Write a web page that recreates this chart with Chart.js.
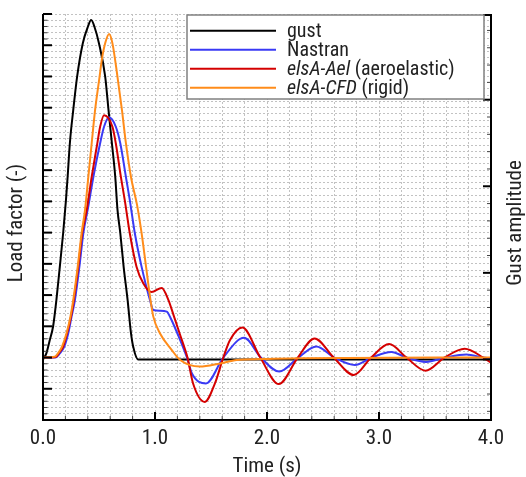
<!DOCTYPE html>
<html>
<head>
<meta charset="utf-8">
<title>Gust response | Load factor</title>
<script src="https://cdn.jsdelivr.net/npm/chart.js@4.4.1/dist/chart.umd.min.js"></script>
<style>
  html, body { margin: 0; padding: 0; background: #ffffff; }
</style>
</head>
<body>
<canvas id="myChart" width="526" height="477"></canvas>
<script>
// values (load factor in arbitrary units, gust on its own axis)
const gustTime = [0, 0.03, 0.06, 0.09, 0.12, 0.15, 0.18, 0.205, 0.22, 0.24, 0.27, 0.305, 0.355, 0.40, 0.43, 0.46, 0.50, 0.555, 0.585, 0.615, 0.645, 0.665, 0.69, 0.72, 0.755, 0.785, 0.805, 0.85, 4.0];
const gustValue = [0, 0.07, 0.22, 0.38, 0.69, 1.07, 1.46, 1.84, 2.11, 2.50, 2.88, 3.27, 3.65, 3.84, 3.92, 3.84, 3.65, 3.27, 2.88, 2.50, 2.11, 1.73, 1.46, 1.07, 0.69, 0.31, 0.15, 0, 0];

const nastranTime = [0, 0.11, 0.15, 0.19, 0.225, 0.255, 0.285, 0.325, 0.36, 0.405, 0.45, 0.51, 0.545, 0.59, 0.65, 0.69, 0.74, 0.775, 0.82, 0.88, 0.955, 0.985, 1.045, 1.105, 1.14, 1.2, 1.285, 1.33, 1.455, 1.61, 1.795, 1.945, 2.11, 2.28, 2.44, 2.6, 2.785, 2.935, 3.11, 3.245, 3.42, 3.59, 3.78, 3.93, 4.0];
const nastranValue = [0, 0, 0.13, 0.35, 0.77, 1.31, 1.84, 2.91, 3.98, 4.85, 5.79, 6.86, 7.39, 7.69, 7.39, 6.86, 5.79, 5.04, 3.98, 2.91, 1.84, 1.52, 1.50, 1.47, 1.26, 0.77, 0, -0.51, -0.83, 0, 0.63, 0, -0.45, 0, 0.35, 0, -0.24, 0, 0.18, 0, -0.14, 0, 0.10, 0, -0.03];

const aelTime = [0, 0.115, 0.145, 0.18, 0.215, 0.25, 0.275, 0.315, 0.35, 0.39, 0.435, 0.485, 0.51, 0.545, 0.62, 0.65, 0.695, 0.73, 0.775, 0.835, 0.895, 0.97, 1.06, 1.12, 1.17, 1.22, 1.27, 1.29, 1.34, 1.445, 1.535, 1.61, 1.67, 1.78, 1.94, 2.105, 2.275, 2.425, 2.595, 2.775, 2.93, 3.09, 3.245, 3.415, 3.585, 3.765, 3.93, 4.0];
const aelValue = [0, 0.02, 0.16, 0.35, 0.78, 1.31, 1.84, 2.91, 3.99, 4.72, 5.79, 6.86, 7.39, 7.76, 7.39, 6.86, 5.79, 5.04, 3.98, 2.91, 2.38, 2.10, 2.23, 1.84, 1.31, 0.77, 0.24, 0, -0.83, -1.42, -0.83, 0, 0.56, 0.96, 0, -0.85, 0, 0.61, 0, -0.56, 0, 0.43, 0, -0.42, 0, 0.28, 0, -0.17];

const cfdTime = [0, 0.105, 0.135, 0.17, 0.21, 0.245, 0.27, 0.31, 0.345, 0.375, 0.405, 0.435, 0.465, 0.505, 0.525, 0.555, 0.59, 0.62, 0.665, 0.705, 0.74, 0.785, 0.84, 0.88, 0.92, 0.96, 0.985, 1.045, 1.15, 1.225, 1.40, 1.58, 1.73, 1.965, 2.3, 4.0];
const cfdValue = [0, 0.03, 0.14, 0.35, 0.78, 1.31, 1.84, 2.91, 3.99, 4.72, 5.79, 6.87, 7.92, 8.99, 9.53, 10.06, 10.36, 10.06, 8.99, 7.92, 6.87, 5.79, 4.88, 3.99, 2.91, 1.84, 1.31, 0.77, 0.24, -0.08, -0.29, -0.19, -0.08, -0.05, -0.02, 0];

const seriesNames = ["gust", "Nastran", "elsA-Ael (aeroelastic)", "elsA-CFD (rigid)"];
const seriesColors = ["#000000", "#3a3af5", "#d40000", "#ff8c1a"];
const axisTitles = ["Load factor (-)", "Gust amplitude"];

const FONT = "'Liberation Sans Narrow', 'Arial Narrow', 'Roboto Condensed', Roboto, sans-serif";
Chart.defaults.font.family = FONT;
Chart.defaults.color = "#222222";

const toPoints = (ts, vs) => ts.map((t, i) => ({ x: t, y: vs[i] }));
const isWhole = (v) => Math.abs(v - Math.round(v)) < 1e-6;

// inward ticks + axis frame (no top border in the original)
const frameTicks = {
  id: "frameTicks",
  afterDatasetsDraw(chart) {
    const { ctx, chartArea: a, scales } = chart;
    const line = (x1, y1, x2, y2, w, c) => {
      ctx.beginPath();
      ctx.lineWidth = w;
      ctx.strokeStyle = c;
      ctx.moveTo(x1, y1);
      ctx.lineTo(x2, y2);
      ctx.stroke();
    };
    ctx.save();
    for (let k = 0; k <= 20; k++) {
      const px = scales.x.getPixelForValue(k * 0.2);
      const major = k % 5 === 0;
      line(px, a.bottom, px, a.bottom - (major ? 8 : 4), major ? 2 : 1, major ? "#000" : "#444");
    }
    for (let k = -10; k <= 55; k++) {
      const py = scales.y.getPixelForValue(k * 0.2);
      const major = k % 5 === 0;
      line(a.left, py, a.left + (major ? 9 : 4.5), py, major ? 2 : 1, major ? "#000" : "#444");
    }
    for (let k = -3; k <= 20; k++) {
      let py = scales.y2.getPixelForValue(k * 0.2);
      if (py < a.top - 2 || py > a.bottom) continue;
      py = Math.max(py, a.top + 1);
      const major = k % 5 === 0;
      line(a.right, py, a.right - (major ? 8 : 4), py, major ? 2 : 1, major ? "#000" : "#444");
    }
    line(a.left, a.top, a.left, a.bottom + 1, 2, "#000");
    line(a.left - 1, a.bottom, a.right + 1, a.bottom, 2, "#000");
    line(a.right, a.top, a.right, a.bottom + 1, 2, "#000");

    // both vertical titles read bottom-to-top
    ctx.fillStyle = "#222222";
    ctx.font = "21px " + FONT;
    ctx.textAlign = "center";
    ctx.textBaseline = "middle";
    const midY = (a.top + a.bottom) / 2 + 6;
    [[a.left - 26, axisTitles[0]], [a.right + 24.5, axisTitles[1]]].forEach(([tx, text]) => {
      ctx.save();
      ctx.translate(tx, midY);
      ctx.rotate(-Math.PI / 2);
      ctx.fillText(text, 0, 0);
      ctx.restore();
    });
    ctx.restore();
  }
};

// legend box with italic code names
const legendBox = {
  id: "legendBox",
  afterDraw(chart) {
    const { ctx, chartArea: a } = chart;
    const left = a.right - 304, top = a.top + 1, w = 297, h = 84;
    ctx.save();
    ctx.fillStyle = "#ffffff";
    ctx.fillRect(left, top, w, h);
    ctx.strokeStyle = "#808080";
    ctx.lineWidth = 1.5;
    ctx.strokeRect(left, top, w, h);
    seriesNames.forEach((name, i) => {
      const yy = top + 15.7 + i * 19;
      ctx.beginPath();
      ctx.strokeStyle = seriesColors[i];
      ctx.lineWidth = 2;
      ctx.moveTo(left + 3, yy);
      ctx.lineTo(left + 89, yy);
      ctx.stroke();
      const m = name.match(/^(elsA-\S+)(.*)$/);
      const italic = m ? m[1] : "";
      const plain = m ? m[2] : name;
      let tx = left + 100;
      ctx.fillStyle = "#222222";
      ctx.textBaseline = "alphabetic";
      if (italic) {
        ctx.font = "italic 20px " + FONT;
        ctx.fillText(italic, tx, yy + 6.7);
        tx += ctx.measureText(italic).width;
      }
      ctx.font = "20px " + FONT;
      ctx.fillText(plain, tx, yy + 6.7);
    });
    ctx.restore();
  }
};

const lineSet = (label, ts, vs, i, axis, order) => ({
  label: label,
  data: toPoints(ts, vs),
  yAxisID: axis,
  borderColor: seriesColors[i],
  borderWidth: 2,
  pointRadius: 0,
  cubicInterpolationMode: "monotone",
  order: order,
});

const gridDash = { display: false, dash: [2, 2] };

new Chart(document.getElementById("myChart"), {
  type: "line",
  data: {
    datasets: [
      lineSet(seriesNames[0], gustTime, gustValue, 0, "y2", 3),
      lineSet(seriesNames[1], nastranTime, nastranValue, 1, "y", 2),
      lineSet(seriesNames[2], aelTime, aelValue, 2, "y", 1),
      lineSet(seriesNames[3], cfdTime, cfdValue, 3, "y", 0),
    ],
  },
  options: {
    responsive: false,
    animation: false,
    layout: { padding: { top: 14, left: 0, right: 0, bottom: 0 } },
    plugins: { legend: { display: false }, tooltip: { enabled: false } },
    scales: {
      x: {
        type: "linear",
        min: 0,
        max: 4,
        afterFit: (s) => { s.height = 57; },
        ticks: {
          stepSize: 0.2,
          autoSkip: false,
          maxRotation: 0,
          padding: 6,
          font: { size: 21 },
          callback: (v) => (isWhole(v) ? v.toFixed(1) : ""),
        },
        grid: { color: "#c2c2c2", lineWidth: 1, drawTicks: false },
        border: gridDash,
        title: { display: true, text: "Time (s)", font: { size: 21, lineHeight: 1 }, padding: { top: 0, bottom: 0 } },
      },
      y: {
        position: "left",
        min: -2,
        max: 11,
        afterFit: (s) => { s.width = 43; },
        ticks: { stepSize: 0.2, autoSkip: false, display: false },
        grid: { color: "#c2c2c2", lineWidth: 1, drawTicks: false },
        border: gridDash,
      },
      y2: {
        position: "right",
        min: -0.7,
        max: 3.99,
        afterFit: (s) => { s.width = 35; },
        ticks: { stepSize: 0.2, display: false },
        grid: { drawOnChartArea: false, drawTicks: false },
        border: { display: false },
      },
    },
  },
  plugins: [frameTicks, legendBox],
});
</script>
</body>
</html>
